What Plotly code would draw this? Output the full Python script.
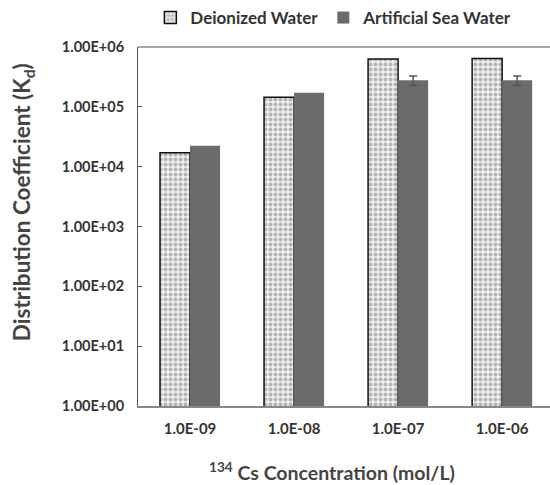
import plotly.graph_objects as go

categories = ["1.0E-09", "1.0E-08", "1.0E-07", "1.0E-06"]
deionized = [1.71e4, 1.44e5, 6.3e5, 6.45e5]
sea_water = [2.24e4, 1.72e5, 2.78e5, 2.78e5]
sea_err = ["NaN", "NaN", 5.0e4, 5.0e4]
y_tickvals = [1, 10, 100, 1e3, 1e4, 1e5, 1e6]
y_ticktext = ["1.00E+00", "1.00E+01", "1.00E+02", "1.00E+03", "1.00E+04", "1.00E+05", "1.00E+06"]

FONT = "Lato"

fig = go.Figure()
fig.add_trace(go.Bar(
    x=categories, y=deionized, name="Deionized Water",
    marker=dict(color="#f0f0f0", line=dict(color="#111", width=1.5),
                pattern=dict(shape=".", fgcolor="#777", bgcolor="#f0f0f0", size=5, solidity=0.5)),
))
fig.add_trace(go.Bar(
    x=categories, y=sea_water, name="Artificial Sea Water",
    marker=dict(color="#6b6b6b", line=dict(width=0)),
    error_y=dict(type="data", array=sea_err, color="#555", thickness=1.5, width=4, visible=True),
))

fig.update_layout(
    width=550, height=485,
    margin=dict(l=138, r=0, t=47, b=79, autoexpand=False),
    paper_bgcolor="white", plot_bgcolor="white",
    barmode="group", bargap=0.423, bargroupgap=0,
    font=dict(family=FONT, color="#333"),
    legend=dict(orientation="h", x=0.03, xanchor="left", y=1.0, yref="container", yanchor="top",
                font=dict(size=17, family=FONT, color="#333", weight="bold"),
                traceorder="normal"),
    showlegend=True,
)
fig.update_xaxes(
    type="category", range=[-0.5, 3.46], automargin=False,
    showline=True, linecolor="#888", linewidth=2, mirror=False,
    ticks="", ticklabelstandoff=8,
    tickfont=dict(size=15, family=FONT, color="#333", weight="bold"),
    showgrid=False,
)
fig.update_yaxes(
    type="log", range=[0, 6], automargin=False,
    tickvals=y_tickvals, ticktext=y_ticktext,
    showline=True, linecolor="#555", linewidth=1, mirror=False,
    ticks="inside", ticklen=4, tickcolor="#555", ticklabelstandoff=10,
    tickfont=dict(size=14.5, family=FONT, color="#333", weight="bold"),
    showgrid=False, zeroline=False,
)
# top border line
fig.add_shape(type="line", xref="paper", yref="paper", x0=0, x1=1, y0=1, y1=1,
              line=dict(color="#888", width=1.5))

fig.add_annotation(text="Distribution Coefficient (K<sub>d</sub>)", xref="paper", yref="paper",
                   x=-0.279, y=0.568, textangle=-90, showarrow=False,
                   font=dict(size=22.5, family=FONT, color="#444", weight="bold"), xanchor="center", yanchor="middle")
fig.add_annotation(text="<sup>134</sup> Cs Concentration (mol/L)", xref="paper", yref="paper",
                   x=0.47, y=-0.183, showarrow=False,
                   font=dict(size=19.5, family=FONT, color="#444", weight="bold"), xanchor="center", yanchor="middle")

fig.write_html("out.html", config={"displayModeBar": False},
               post_script="document.body.style.margin='0';")
